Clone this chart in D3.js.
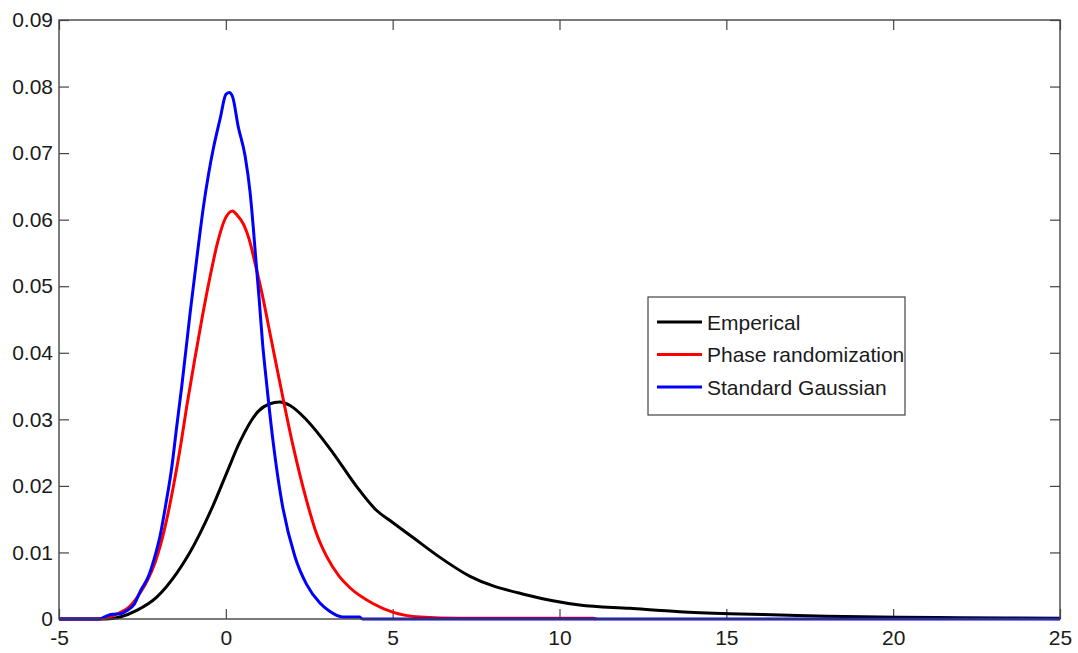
<!DOCTYPE html>
<html>
<head>
<meta charset="utf-8">
<script src="https://cdn.jsdelivr.net/npm/d3@7"></script>
<style>
  html, body { margin: 0; padding: 0; background: #fff; }
  svg { display: block; font-family: "Liberation Sans", Arial, sans-serif; }
</style>
</head>
<body>
<svg id="chart" width="1078" height="653"></svg>
<script>
// Data
const seriesNames = ['Emperical', 'Phase randomization', 'Standard Gaussian'];
const seriesColors = ['#000000', '#ff0000', '#0000ff'];

const xTicks = [-5, 0, 5, 10, 15, 20, 25];
const yTicks = [0, 0.01, 0.02, 0.03, 0.04, 0.05, 0.06, 0.07, 0.08, 0.09];

const emperical = [
    [-5, 0], [-3.6, 0], [-3.17, 0.0003], [-2.67, 0.0013], [-2.07, 0.0033], [-1.47, 0.0069],
    [-1.1, 0.0098], [-0.77, 0.0129], [-0.37, 0.0172], [0.03, 0.0220], [0.42, 0.0266],
    [0.97, 0.0312], [1.3, 0.0323], [1.62, 0.0326], [1.95, 0.0320], [2.42, 0.0299],
    [3.22, 0.0249], [3.92, 0.0199], [4.52, 0.0163], [4.92, 0.0148], [5.62, 0.0122],
    [6.32, 0.0096], [7.32, 0.0064], [9.02, 0.0036], [10.6, 0.0021], [12.1, 0.0016],
    [13.6, 0.0011], [15.1, 0.0008], [16.6, 0.0006], [18, 0.0004], [20.2, 0.00025],
    [22, 0.0002], [25, 0.0001]
];

const phaseRand = [
    [-5, 0], [-3.8, 0], [-3.5, 0.0003], [-3.2, 0.0009], [-2.9, 0.0018], [-2.57, 0.0039],
    [-2.35, 0.0058], [-2.12, 0.0085], [-1.97, 0.0109], [-1.77, 0.0150], [-1.55, 0.0205],
    [-1.35, 0.0262], [-1.17, 0.0320], [-0.95, 0.0385], [-0.72, 0.0450], [-0.47, 0.0515],
    [-0.25, 0.0565], [-0.05, 0.0598], [0.2, 0.0613], [0.35, 0.0606], [0.52, 0.0594],
    [0.73, 0.0565], [0.85, 0.054], [1.08, 0.049], [1.38, 0.0415], [1.62, 0.0355],
    [2.02, 0.0259], [2.42, 0.0178], [2.72, 0.0128], [3.02, 0.0094], [3.4, 0.0064],
    [3.72, 0.0047], [4.42, 0.0023], [5.02, 0.0010], [5.82, 0.0003], [7, 0.0001],
    [11, 0.0001], [11.1, 0]
];

const stdGaussian = [
    [-5, 0], [-3.8, 0], [-3.6, 0.0004], [-3.4, 0.0007], [-3.15, 0.0008], [-2.95, 0.0013],
    [-2.75, 0.0022], [-2.55, 0.0043], [-2.32, 0.0064], [-2.15, 0.0090], [-1.97, 0.0125],
    [-1.8, 0.0172], [-1.62, 0.0228], [-1.47, 0.0290], [-1.32, 0.0350], [-1.07, 0.0460],
    [-0.85, 0.0550], [-0.67, 0.0620], [-0.52, 0.0668], [-0.37, 0.0708], [-0.17, 0.0752],
    [0.0, 0.0788], [0.1, 0.0791], [0.2, 0.0785], [0.37, 0.074], [0.58, 0.0695],
    [0.73, 0.064], [0.82, 0.059], [0.9, 0.054], [1.0, 0.048], [1.1, 0.0415],
    [1.22, 0.0355], [1.42, 0.0265], [1.67, 0.0178], [2.07, 0.0094], [2.42, 0.0052],
    [2.82, 0.0024], [3.1, 0.0012], [3.5, 0.0003], [4.0, 0.0003], [4.1, 0], [25, 0]
];

const allSeries = [emperical, phaseRand, stdGaussian];

const svg = d3.select('#chart'),
    margin = { top: 20, right: 18, bottom: 34, left: 59 },
    width = +svg.attr('width') - margin.left - margin.right,
    height = +svg.attr('height') - margin.top - margin.bottom;

const axisColor = '#444';

const x = d3.scaleLinear().domain([-5, 25]).range([margin.left, margin.left + width]);
const y = d3.scaleLinear().domain([0, 0.09]).range([margin.top + height, margin.top]);

const yFmt = d => d === 0 ? '0' : d3.format('.2f')(d);

// bottom axis with labels (plain hyphen for negatives, like MATLAB)
const gx = svg.append('g')
    .attr('transform', `translate(0,${margin.top + height})`)
    .call(d3.axisBottom(x).tickValues(xTicks).tickSize(-10).tickPadding(11).tickFormat(d => String(d)));

// left axis with labels
const gy = svg.append('g')
    .attr('transform', `translate(${margin.left},0)`)
    .call(d3.axisLeft(y).tickValues(yTicks).tickSize(-10).tickPadding(6).tickFormat(yFmt));

// top and right ticks only
const gt = svg.append('g')
    .attr('transform', `translate(0,${margin.top})`)
    .call(d3.axisTop(x).tickValues(xTicks).tickSize(-10).tickFormat(''));
const gr = svg.append('g')
    .attr('transform', `translate(${margin.left + width},0)`)
    .call(d3.axisRight(y).tickValues(yTicks).tickSize(-10).tickFormat(''));

[gx, gy, gt, gr].forEach(g => {
    g.select('.domain').remove();
    g.selectAll('.tick line').attr('stroke', axisColor).attr('stroke-width', 1.2);
    g.selectAll('.tick text')
        .attr('fill', '#1a1a1a')
        .style('font-size', '21px')
        .style('font-family', '"Liberation Sans", Arial, sans-serif');
});

// lines
const line = d3.line()
    .x(d => x(d[0]))
    .y(d => y(d[1]))
    .curve(d3.curveMonotoneX);

svg.selectAll('.series')
    .data(allSeries)
    .enter().append('path')
    .attr('class', 'series')
    .attr('fill', 'none')
    .attr('stroke', (d, i) => seriesColors[i])
    .attr('stroke-width', 3)
    .attr('stroke-linejoin', 'round')
    .attr('d', line);

// box
svg.append('rect')
    .attr('x', margin.left)
    .attr('y', margin.top)
    .attr('width', width)
    .attr('height', height)
    .attr('fill', 'none')
    .attr('stroke', axisColor)
    .attr('stroke-width', 1.4);

// legend
const legend = svg.append('g').attr('transform', 'translate(648,297)');
legend.append('rect')
    .attr('width', 257)
    .attr('height', 118)
    .attr('fill', '#fff')
    .attr('stroke', axisColor)
    .attr('stroke-width', 1.2);

const rows = legend.selectAll('.row')
    .data(seriesNames)
    .enter().append('g')
    .attr('class', 'row')
    .attr('transform', (d, i) => `translate(0,${25 + i * 32.5})`);

rows.append('line')
    .attr('x1', 9).attr('x2', 54)
    .attr('stroke', (d, i) => seriesColors[i])
    .attr('stroke-width', 3);

rows.append('text')
    .attr('x', 59)
    .attr('dy', '0.36em')
    .attr('fill', '#1a1a1a')
    .style('font-size', '21px')
    .text(d => d);
</script>
</body>
</html>
